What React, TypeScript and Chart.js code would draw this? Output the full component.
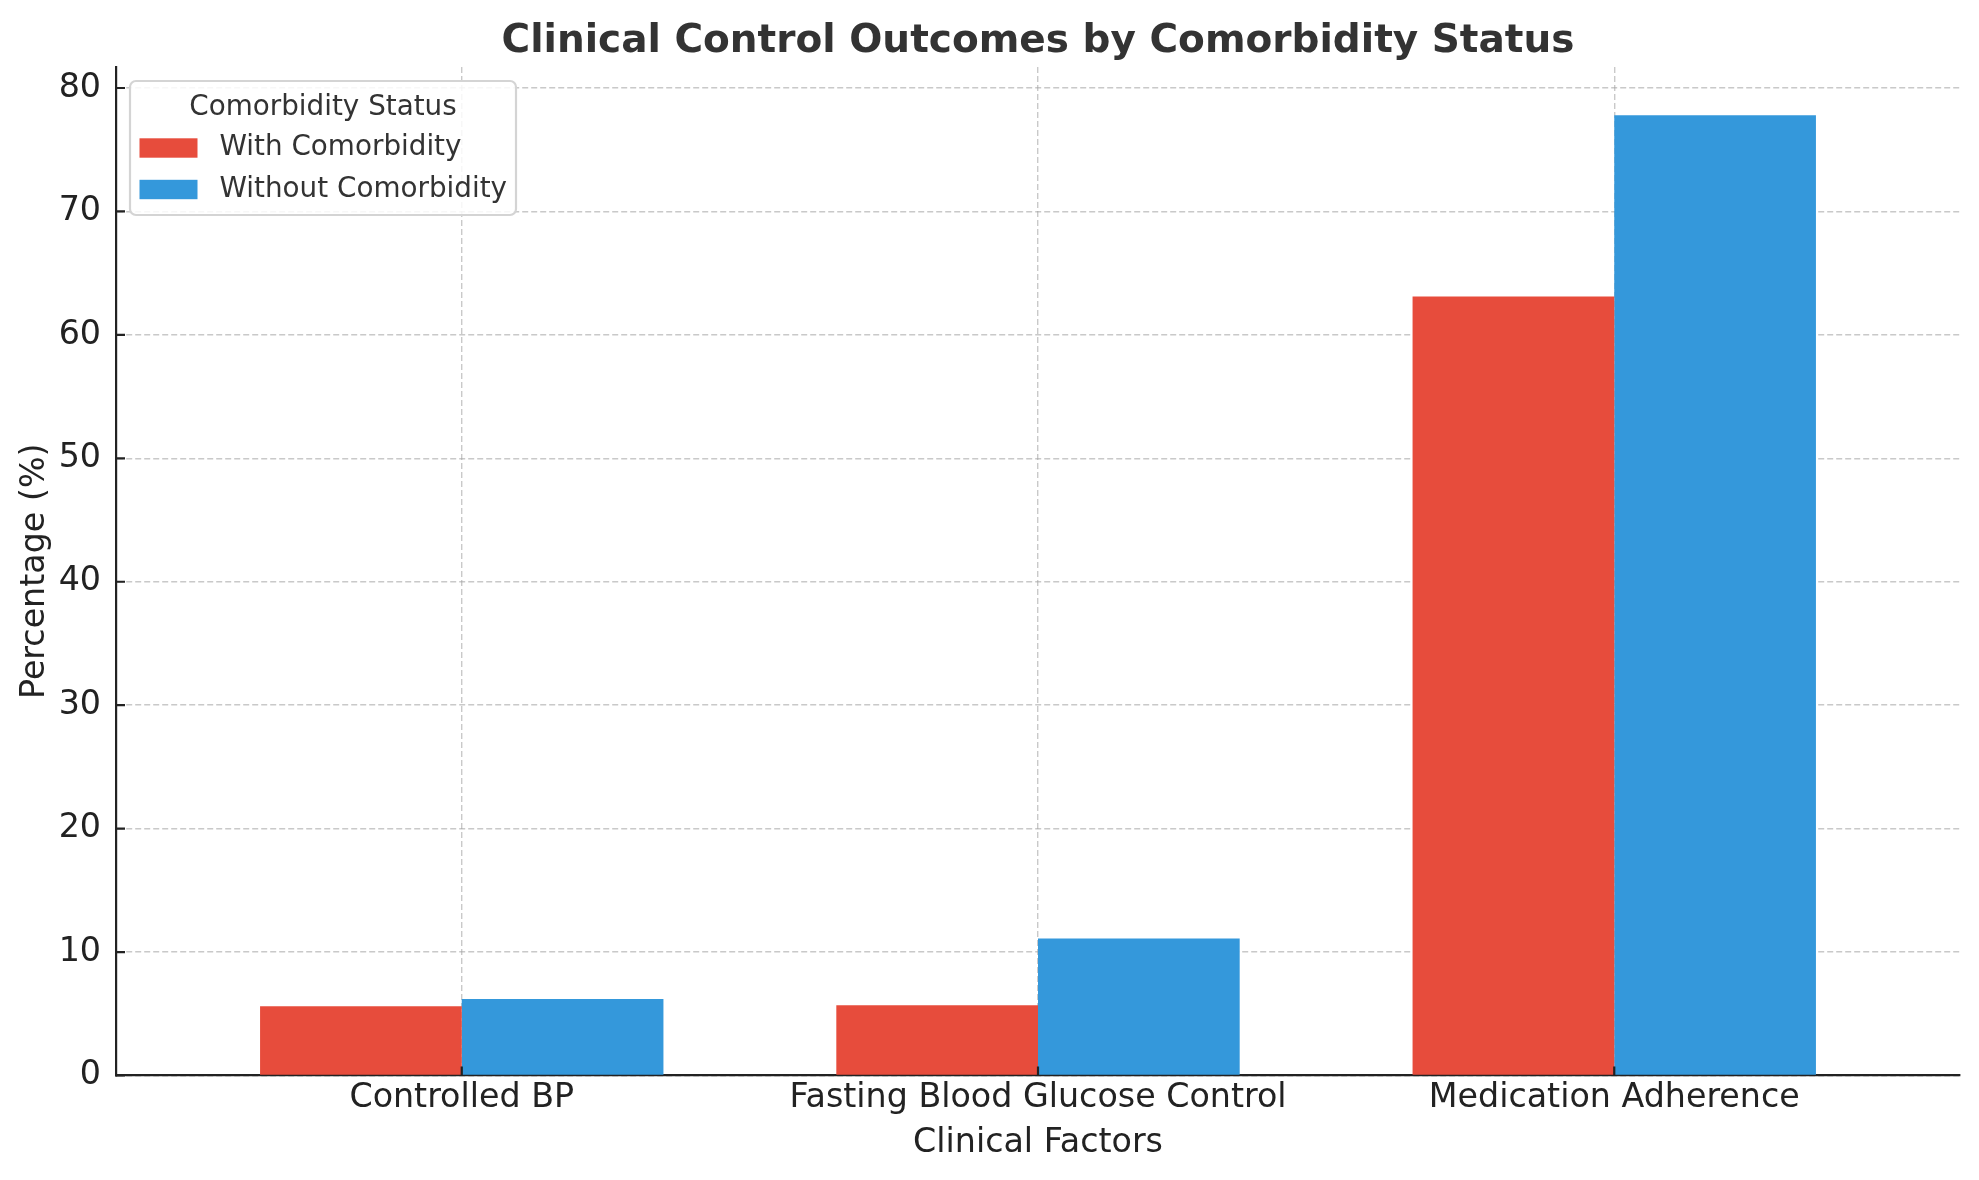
import React, { useEffect, useRef } from "react";
import { Chart, registerables } from "chart.js";

Chart.register(...registerables);

// ---------- data ----------
const categories = ["Controlled BP", "Fasting Blood Glucose Control", "Medication Adherence"];
const withComorbidity = [5.6, 5.7, 63.1];
const withoutComorbidity = [6.2, 11.1, 77.8];
const seriesNames = ["With Comorbidity", "Without Comorbidity"];
const seriesColors = ["#e74c3c", "#3498db"];
const chartTitle = "Clinical Control Outcomes by Comorbidity Status";
const xAxisTitle = "Clinical Factors";
const yAxisTitle = "Percentage (%)";
const legendTitle = "Comorbidity Status";
const yStep = 10;

const FONT = "'DejaVu Sans', 'Liberation Sans', sans-serif";
const TICK_SIZE = 33.3;
const LEGEND_SIZE = 27.8;
const GRID_COLOR = "rgba(165,165,165,0.6)";
const AXIS_COLOR = "#222222";

const innerTicksPlugin = {
  id: "innerTicks",
  afterDraw(chart: any) {
    const { ctx, chartArea, scales } = chart;
    ctx.save();
    ctx.strokeStyle = AXIS_COLOR;
    ctx.lineWidth = 2.2;
    ctx.beginPath();
    scales.y.ticks.forEach((t: any) => {
      const py = scales.y.getPixelForValue(t.value);
      ctx.moveTo(chartArea.left, py);
      ctx.lineTo(chartArea.left + 9, py);
    });
    scales.x.ticks.forEach((t: any) => {
      const px = scales.x.getPixelForValue(t.value);
      ctx.moveTo(px, chartArea.bottom);
      ctx.lineTo(px, chartArea.bottom - 9);
    });
    ctx.stroke();
    ctx.restore();
  },
};

const insideLegendPlugin = {
  id: "insideLegend",
  afterDraw(chart: any) {
    const { ctx, chartArea } = chart;
    const left = chartArea.left + 14;
    const top = chartArea.top + 14;
    const w = 386;
    const h = 134;
    const r = 6;
    ctx.save();
    ctx.beginPath();
    ctx.moveTo(left + r, top);
    ctx.lineTo(left + w - r, top);
    ctx.arcTo(left + w, top, left + w, top + r, r);
    ctx.lineTo(left + w, top + h - r);
    ctx.arcTo(left + w, top + h, left + w - r, top + h, r);
    ctx.lineTo(left + r, top + h);
    ctx.arcTo(left, top + h, left, top + h - r, r);
    ctx.lineTo(left, top + r);
    ctx.arcTo(left, top, left + r, top, r);
    ctx.closePath();
    ctx.fillStyle = "rgba(255,255,255,0.85)";
    ctx.fill();
    ctx.strokeStyle = "#d4d4d4";
    ctx.lineWidth = 2.2;
    ctx.stroke();

    ctx.font = `${LEGEND_SIZE}px ${FONT}`;
    ctx.fillStyle = "#333333";
    ctx.textAlign = "center";
    ctx.textBaseline = "middle";
    ctx.fillText(legendTitle, left + w / 2, top + 26.5);

    chart.data.datasets.forEach((ds: any, i: number) => {
      const cy = top + 67 + i * 41.5;
      ctx.fillStyle = ds.backgroundColor;
      ctx.fillRect(left + 9.5, cy - 9.7, 58, 19.4);
      ctx.fillStyle = "#333333";
      ctx.textAlign = "left";
      ctx.fillText(ds.label, left + 89.5, cy);
    });
    ctx.restore();
  },
};

export default function App() {
  const canvasRef = useRef<HTMLCanvasElement | null>(null);

  useEffect(() => {
    if (!canvasRef.current) return;
    const toPoints = (vals: number[]) => vals.map((v, i) => ({ x: i, y: v }));
    const chart = new Chart(canvasRef.current, {
      type: "bar",
      data: {
        datasets: [
          {
            label: seriesNames[0],
            data: toPoints(withComorbidity),
            backgroundColor: seriesColors[0],
            borderWidth: 0,
          },
          {
            label: seriesNames[1],
            data: toPoints(withoutComorbidity),
            backgroundColor: seriesColors[1],
            borderWidth: 0,
          },
        ],
      },
      options: {
        animation: false,
        responsive: false,
        devicePixelRatio: 1,
        categoryPercentage: 0.7,
        barPercentage: 1.0,
        layout: { padding: { left: 0, right: 19, top: 0, bottom: 0 } },
        plugins: {
          legend: { display: false },
          tooltip: { enabled: false },
          title: {
            display: true,
            fullSize: false,
            text: chartTitle,
            color: "#333333",
            font: { family: FONT, size: 39, weight: "bold" },
            padding: { top: 18.6, bottom: 1.6 },
          },
        },
        scales: {
          x: {
            type: "linear",
            min: -0.6,
            max: 2.6,
            offset: false,
            z: 1,
            ticks: {
              stepSize: 1,
              includeBounds: false,
              autoSkip: false,
              maxRotation: 0,
              minRotation: 0,
              padding: 3,
              color: AXIS_COLOR,
              font: { family: FONT, size: TICK_SIZE },
              callback: (v: any) => (Number.isInteger(v) && categories[v] !== undefined ? categories[v] : ""),
            },
            grid: { color: GRID_COLOR, lineWidth: 1.4, drawTicks: false, offset: false },
            border: { display: true, color: AXIS_COLOR, width: 2.2, dash: [6, 3] },
            title: {
              display: true,
              text: xAxisTitle,
              color: AXIS_COLOR,
              font: { family: FONT, size: TICK_SIZE },
              padding: { top: 0, bottom: 16.5 },
            },
            afterFit: (s: any) => {
              s.height = 104.5;
            },
          } as any,
          y: {
            min: 0,
            max: 81.7,
            z: 1,
            ticks: {
              stepSize: yStep,
              includeBounds: false,
              padding: 15,
              color: AXIS_COLOR,
              font: { family: FONT, size: TICK_SIZE },
            },
            grid: { color: GRID_COLOR, lineWidth: 1.4, drawTicks: false },
            border: { display: true, color: AXIS_COLOR, width: 2.2, dash: [6, 3] },
            title: {
              display: true,
              text: yAxisTitle,
              color: AXIS_COLOR,
              font: { family: FONT, size: TICK_SIZE },
              padding: { top: 15.5, bottom: 0 },
            },
            afterFit: (s: any) => {
              s.width = 116;
            },
          } as any,
        },
      } as any,
      plugins: [innerTicksPlugin, insideLegendPlugin],
    });
    return () => chart.destroy();
  }, []);

  return (
    <div style={{ position: "absolute", left: 0, top: 0, width: 1979, height: 1180, background: "#ffffff" }}>
      <canvas ref={canvasRef} width={1979} height={1180} style={{ display: "block" }} />
    </div>
  );
}
